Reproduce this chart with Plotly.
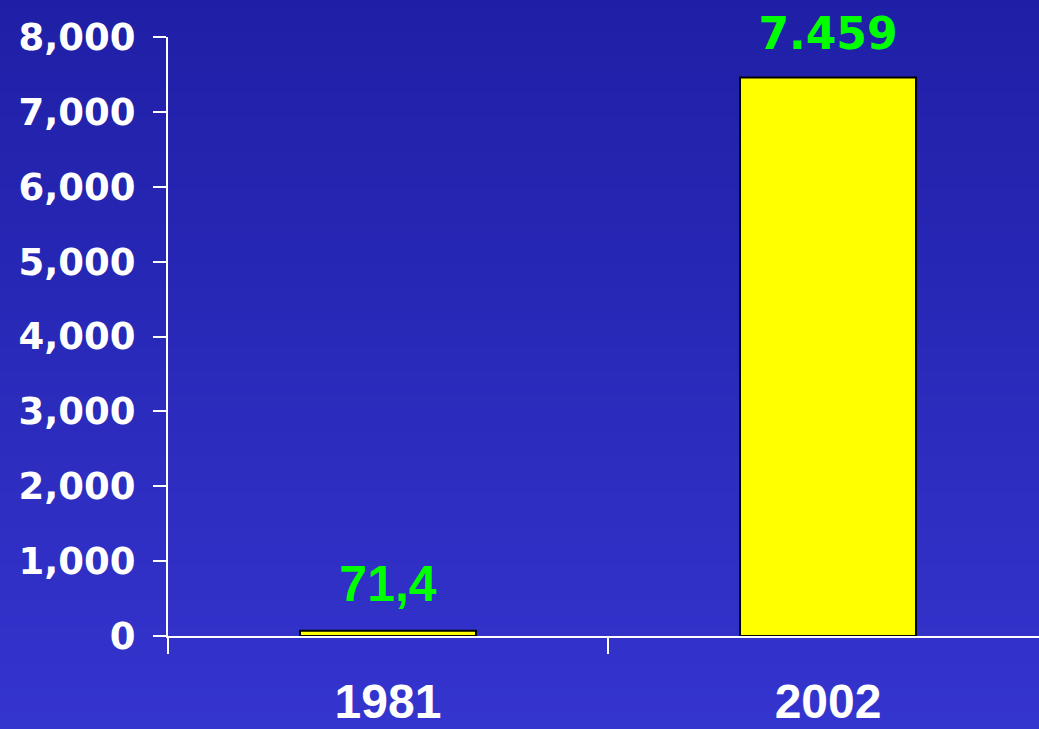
import plotly.graph_objects as go

years = ['1981', '2002']
values = [71.4, 7459]
value_labels = ['71,4', '7.459']
label_fonts = ['Liberation Sans', 'DejaVu Sans']
label_sizes = [50, 44]
y_ticks = [0, 1000, 2000, 3000, 4000, 5000, 6000, 7000, 8000]


def blend(c1, c2, t):
    return 'rgb({},{},{})'.format(*[round(a + (b - a) * t) for a, b in zip(c1, c2)])


fig = go.Figure()

fig.add_trace(go.Bar(
    x=years, y=values, width=0.4,
    marker=dict(color='#ffff00', line=dict(color='black', width=2)),
    hoverinfo='skip',
))

# green value labels above bars (invisible markers push the text up)
fig.add_trace(go.Scatter(
    x=years, y=values, mode='markers+text',
    text=[f'<b>{t}</b>' for t in value_labels],
    textposition='top center',
    textfont=dict(color='#00ff00', size=label_sizes, family=label_fonts),
    marker=dict(size=26, opacity=0),
    cliponaxis=False, hoverinfo='skip',
))

# vertical gradient background made of thin strips
top_c = (31, 31, 166)
bot_c = (52, 52, 206)
n = 60
shapes = []
for i in range(n):
    y0 = 1 + 37 / 599 - (729 / 599) * i / n
    y1 = 1 + 37 / 599 - (729 / 599) * (i + 1) / n
    shapes.append(dict(
        type='rect', xref='paper', yref='paper', layer='below',
        x0=-0.3, x1=1.1, y0=y1 - 0.003, y1=y0 + 0.01,
        fillcolor=blend(top_c, bot_c, i / (n - 1)), line=dict(width=0),
    ))

fig.update_layout(
    width=1039, height=729,
    margin=dict(l=168, r=0, t=37, b=93),
    paper_bgcolor='#2a2ab8', plot_bgcolor='rgba(0,0,0,0)',
    shapes=shapes,
    showlegend=False,
    bargap=0.6,
)

fig.update_xaxes(
    type='category', range=[-0.5, 1.4795], automargin=False,
    showline=True, linecolor='white', linewidth=2,
    ticks='outside', tickson='boundaries', ticklen=16, tickwidth=2, tickcolor='white',
    ticklabelstandoff=22,
    tickfont=dict(color='white', size=48, family='Liberation Sans', weight='bold'),
    showgrid=False, zeroline=False,
)

fig.update_yaxes(
    range=[0, 8000], tickvals=y_ticks, automargin=False,
    ticktext=[f'{t:,}' for t in y_ticks],
    showline=True, linecolor='white', linewidth=2,
    ticks='outside', ticklen=13, tickwidth=2, tickcolor='white',
    ticklabelstandoff=10,
    tickfont=dict(color='white', size=37, family='DejaVu Sans', weight='bold'),
    showgrid=False, zeroline=False,
)

fig.write_html(
    'out.html',
    config={'displayModeBar': False},
    post_script="document.body.style.margin='0';document.body.style.overflow='hidden';",
)
